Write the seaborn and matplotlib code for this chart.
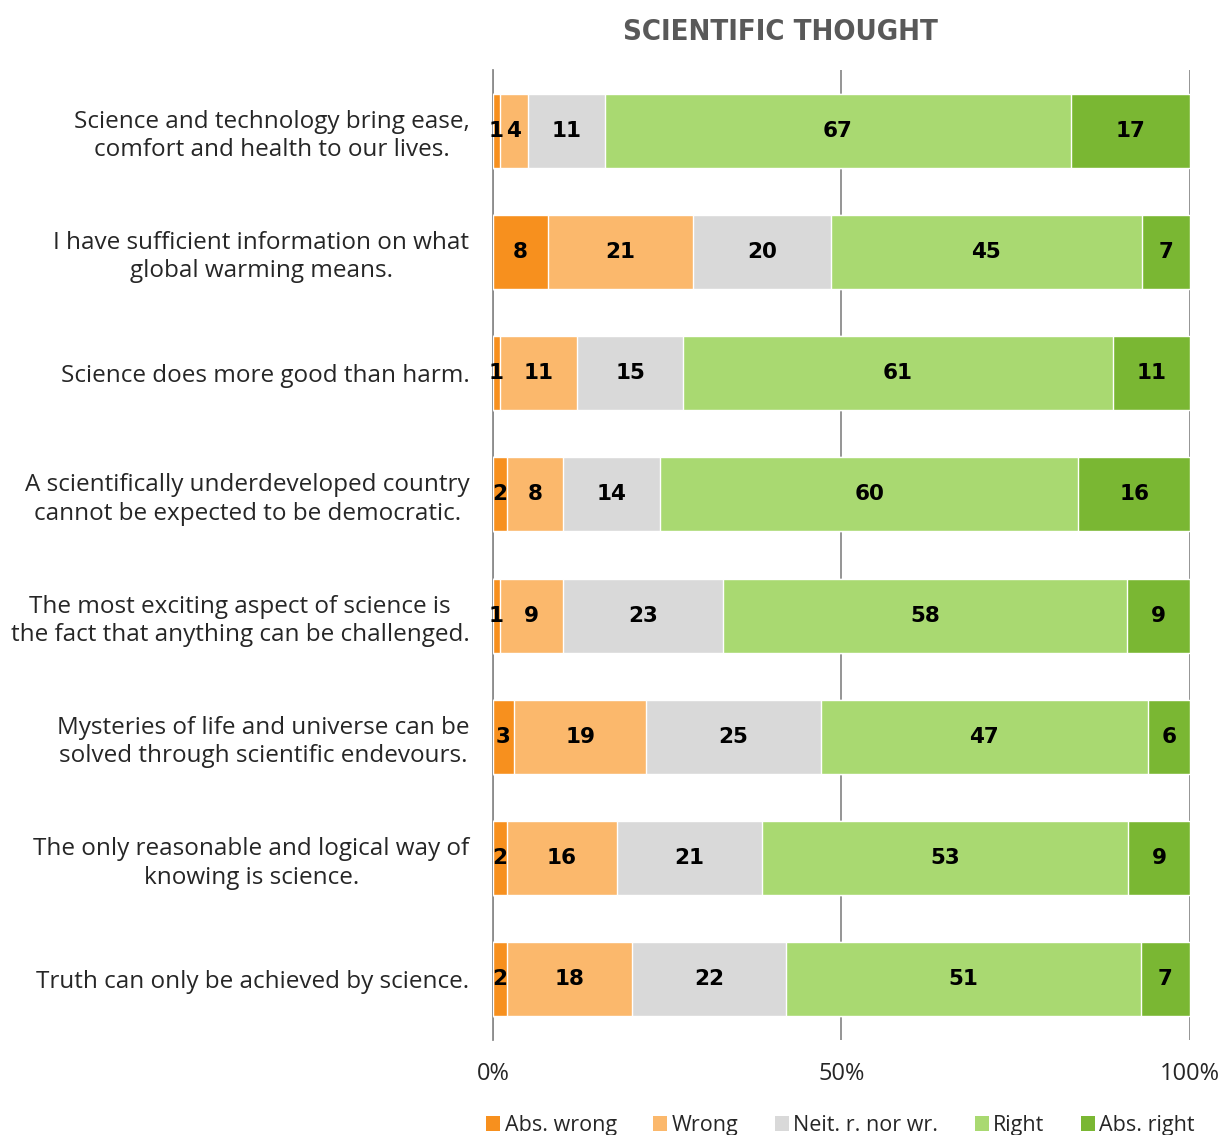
import numpy as np
import pandas as pd
import matplotlib
matplotlib.use("Agg")
import matplotlib.pyplot as plt
import seaborn as sns
from matplotlib.patches import Patch
from matplotlib.ticker import FixedLocator

statements = [
    "Science and technology bring ease,\ncomfort and health to our lives.",
    "I have sufficient information on what\nglobal warming means.",
    "Science does more good than harm.",
    "A scientifically underdeveloped country\ncannot be expected to be democratic.",
    "The most exciting aspect of science is\nthe fact that anything can be challenged.",
    "Mysteries of life and universe can be\nsolved through scientific endevours.",
    "The only reasonable and logical way of\nknowing is science.",
    "Truth can only be achieved by science.",
]
series = ["Abs. wrong", "Wrong", "Neit. r. nor wr.", "Right", "Abs. right"]
abs_wrong = [1, 8, 1, 2, 1, 3, 2, 2]
wrong = [4, 21, 11, 8, 9, 19, 16, 18]
neither = [11, 20, 15, 14, 23, 25, 21, 22]
right = [67, 45, 61, 60, 58, 47, 53, 51]
abs_right = [17, 7, 11, 16, 9, 6, 9, 7]
colors = ["#F7901E", "#FBB86C", "#D9D9D9", "#A9D971", "#7AB733"]

vals = np.array([abs_wrong, wrong, neither, right, abs_right], dtype=float).T
pct = vals / vals.sum(axis=1, keepdims=True) * 100
cum = pct.cumsum(axis=1)

df = pd.DataFrame(cum, columns=series)
df["statement"] = statements

sns.set_style("white")
plt.rcParams["font.family"] = ["Open Sans", "DejaVu Sans"]

fig = plt.figure(figsize=(12.27, 11.35), dpi=100)
ax = fig.add_axes([0.4018, 0.0837, 0.5680, 0.8546])

# stacked bars: draw cumulative totals from the outermost segment inwards
for i in range(len(series) - 1, -1, -1):
    sns.barplot(data=df, x=series[i], y="statement", color=colors[i],
                orient="h", width=0.61, saturation=1, ax=ax, zorder=3)

# segment value labels
for r in range(len(statements)):
    start = 0
    for i in range(len(series)):
        ax.text(start + pct[r, i] / 2, r, f"{int(vals[r, i])}", ha="center",
                va="center", fontsize=15.5, fontweight="bold", color="black",
                family=["DejaVu Sans"], zorder=5)
        start += pct[r, i]

ax.set_xlim(0, 100)
ax.set_ylim(len(statements) - 0.5, -0.5)
ax.set_xticks([0, 50, 100])
ax.set_xticklabels(["0%", "50%", "100%"], fontsize=17)
ax.set_xlabel("")
ax.set_ylabel("")
ax.tick_params(axis="x", length=7, color="#999999", width=1.2, pad=9)
ax.tick_params(axis="y", which="major", length=0, pad=17, labelsize=17.5)
ax.yaxis.set_minor_locator(FixedLocator(np.arange(-0.5, len(statements), 1.0)))
ax.tick_params(axis="y", which="minor", length=7, color="#999999", width=1.2)
for lab in ax.get_yticklabels():
    lab.set_multialignment("center")
    lab.set_linespacing(1.25)

ax.xaxis.grid(True, color="#8C8C8C", linewidth=1.3, zorder=0)
ax.yaxis.grid(False)
for s in ["top", "right", "bottom"]:
    ax.spines[s].set_visible(False)
ax.spines["left"].set_color("#8C8C8C")
ax.spines["left"].set_linewidth(1.3)

fig.text(0.636, 0.972, "SCIENTIFIC THOUGHT", ha="center", va="center",
         fontsize=21, fontweight="bold", fontstretch="condensed",
         color="#595959", family=["DejaVu Sans"])

handles = [Patch(facecolor=c, edgecolor="none") for c in colors]
fig.legend(handles, series, loc="lower center", bbox_to_anchor=(0.685, -0.018),
           ncol=5, frameon=False, fontsize=15.5, handlelength=0.65,
           handleheight=0.65, handletextpad=0.2, columnspacing=1.7)

fig.savefig("out.png", dpi=100)
